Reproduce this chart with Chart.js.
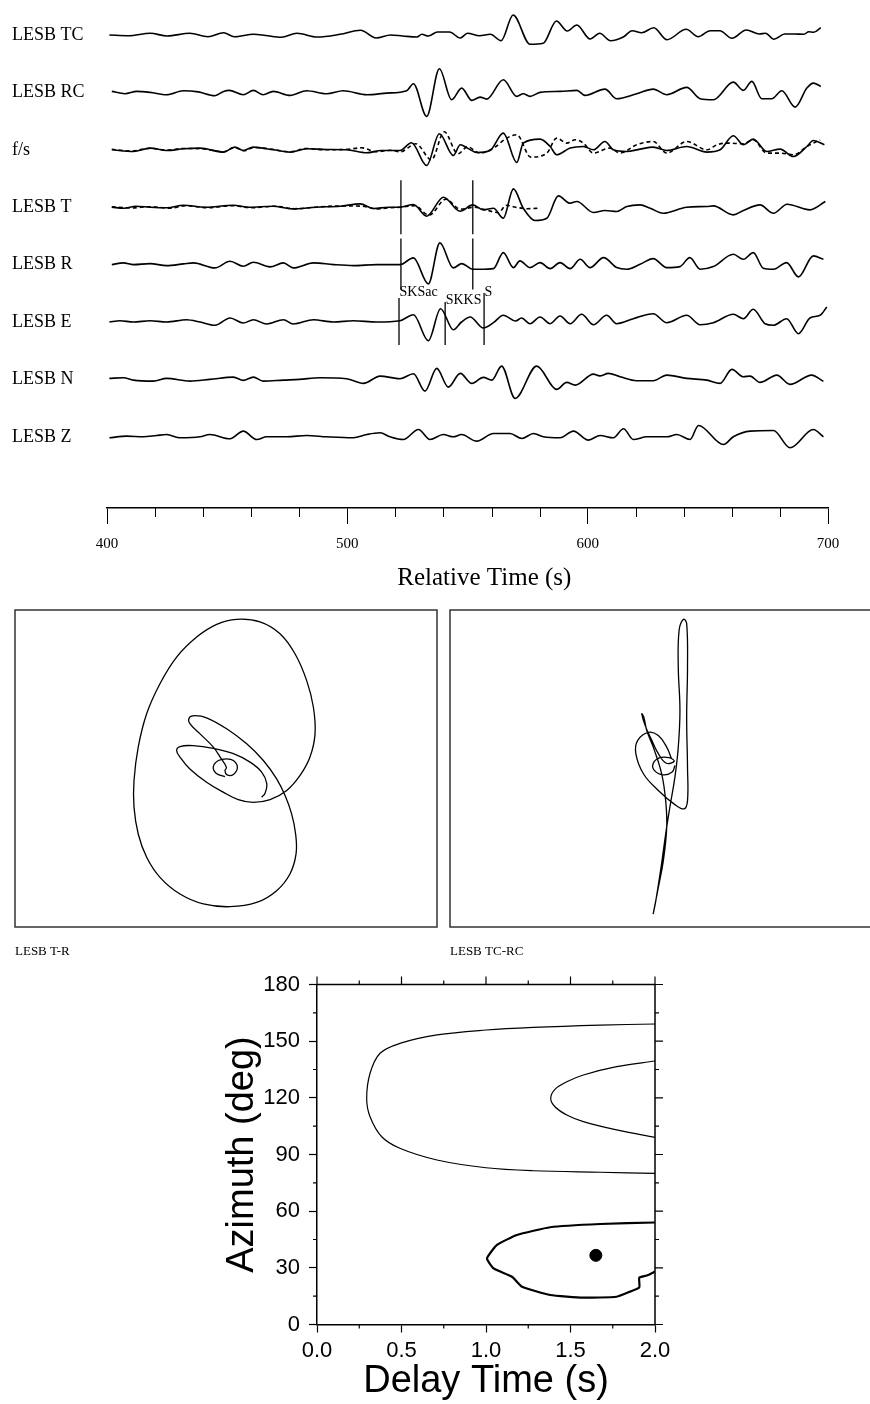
<!DOCTYPE html>
<html>
<head>
<meta charset="utf-8">
<script src="https://cdn.jsdelivr.net/npm/chart.js@4.4.0/dist/chart.umd.min.js"></script>
<style>
  body { margin: 0; background: #fff; width: 870px; height: 1404px; position: relative; overflow: hidden; }
  canvas { position: absolute; }
</style>
</head>
<body>
<canvas id="traces" width="870" height="600" style="left:0;top:0"></canvas>
<canvas id="pmTR" width="445" height="360" style="left:0;top:600px"></canvas>
<canvas id="pmTCRC" width="425" height="360" style="left:445px;top:600px"></canvas>
<canvas id="grid" width="870" height="444" style="left:0;top:960px"></canvas>
<script>
// ---- seismogram data: [time (s), amplitude] ----
const stations = ['LESB TC', 'LESB RC', 'f/s', 'LESB T', 'LESB R', 'LESB E', 'LESB N', 'LESB Z'];
const timeTicks = [400, 500, 600, 700];
const minorTimeTicks = [420, 440, 460, 480, 520, 540, 560, 580, 620, 640, 660, 680];

const traceTC = [[401,0],[409,-0.7],[418,1.7],[425,-1],[434.5,1.7],[442,-1.7],[448.5,2.3],[453,-1.7],[461,0.7],[466,-0.5],[472.5,-2.3],[479,1.7],[487.5,-2],[497,0.7],[505.5,4.7],[512,-3],[518,0],[523,-1],[529,-2],[531,0.7],[533.7,-1],[537.5,3],[542.5,3],[547,-3],[550,1.7],[555,-0.7],[559.5,0.7],[564,-5.7],[569,20],[576,-9.3],[581.5,-8.3],[587,14],[591.5,4],[595.5,10],[601,-4],[605,1.7],[609.5,-5.7],[615,-1.7],[618.5,4.3],[622.5,2.3],[627.5,7.3],[633,-4.7],[641,5.7],[646,-1.7],[651,4.3],[655,4.3],[660,-3.3],[666,5],[671.5,1],[674,1.7],[677.5,-4.3],[682,1],[686,1],[690,0.7],[692,3.3],[694,2.7],[697,7.3]];
const traceRC = [[402,1],[407.5,-1.3],[412.3,1],[418,0],[424.8,-2.3],[431.8,1.7],[438,0.5],[444.9,-3.3],[448.5,1],[450.8,2],[456.7,-2.3],[460.9,2],[465,-2.3],[469.2,1],[476.2,-3],[483.1,1.7],[491.4,-1.3],[498.3,1.7],[508.1,-2.3],[516.4,-0.7],[524.7,1.7],[527.5,8.7],[533,-24],[538.3,23.7],[543.4,-7.3],[547.6,4.3],[551.8,-8],[555.2,-4.7],[558,-6.7],[564.9,12.7],[570.5,-4],[573.2,-1.3],[576,-4],[580.2,0],[588.5,1],[595.5,2],[598.9,-3],[607.2,3.3],[612.1,-6.3],[620.4,-1.3],[627.3,3.3],[632.9,-2.3],[641.2,5],[646.8,-6.3],[652.3,-7.3],[660.6,10.3],[664.8,2],[668.3,11],[672.4,-6.3],[676.6,-6.3],[680.8,1.7],[686.3,-14.7],[691.2,4.3],[693.9,9.3],[697,6]];
const traceFast = [[402,0],[411,-1.7],[418,1.7],[424.8,-0.7],[431.8,1],[438.7,1.7],[448.5,-2.3],[453.2,2.7],[456.7,-0.7],[460.9,2.7],[469.2,0],[476.2,-2.3],[483.1,1],[491.4,0.3],[499.7,0],[508.1,-3],[514.1,-0.7],[521.9,-0.7],[526.7,7],[533,-15.7],[538.3,16],[544.1,-5.7],[547,5],[550,1.7],[553.8,-2.7],[559.4,-0.7],[564.9,16.7],[570.5,-12.7],[573.2,6.7],[580.2,10.7],[584.4,3.3],[587.1,-5],[592.7,1.7],[598.2,3.3],[602.4,0],[607.2,8.3],[610.7,0],[616.3,-1.7],[621.8,0.7],[627.3,2.7],[632.9,-0.7],[641.2,3.3],[649.6,-2.3],[655.1,0],[660.6,14],[664.8,5],[668.9,10.7],[674.5,-1.7],[680.1,0.7],[685.6,-6.7],[691.2,3.3],[693.9,9.3],[698.5,5]];
const traceSlow = [[402,0.5],[410,-1.2],[418,1.5],[425,-0.3],[432,1.3],[439,1.2],[448.5,-2],[453,2.3],[457,-1],[461,2.3],[469,0.5],[476,-2],[483,1.3],[491,0],[500,0.5],[506,2],[512,-2],[518,-0.5],[522,-2],[528.5,6],[535,-10],[540.3,18],[546,-4],[550,3],[555.2,-3.3],[561,2],[566.3,11.7],[570.5,15],[576.3,-7.3],[583,-3.3],[587.1,11.7],[591.3,6.7],[594.8,10],[598.2,6.7],[602.4,-3.3],[609.3,1.7],[613.5,-3.3],[620.4,5],[627.3,8.3],[632.9,-3.3],[641.2,8.3],[649.6,0],[653.8,5],[657.9,6.7],[664.8,6],[668.9,10],[674.5,-3.3],[680.1,-3.3],[685.6,-5],[691.2,3.3],[696.7,10]];
const traceT = [[402,0],[407,-1],[412,1],[418,0],[425,-0.5],[431.8,2],[441,0],[452.6,2],[459,0],[469,1],[477,-1.7],[487,0],[497,1],[505.3,3.3],[511,-1.3],[517,0],[522,0],[527.5,2.7],[533,-9],[540,10],[546.9,-4],[552.2,2.3],[556.6,-2.7],[560.8,-1],[564.9,-11],[569.1,18.3],[573.2,-1],[578.1,-13.3],[583,-11],[587.8,11.3],[592.7,4],[595.5,5.7],[602.4,-5.3],[607.2,-3.3],[612.1,-4.3],[616.3,0.7],[621.8,2.3],[626,-1],[631.4,-6],[641.2,0],[649.6,0.7],[652.3,1.3],[660.6,-7.7],[664.8,-3.3],[671.7,2.3],[677.3,-6],[683,3],[692.5,-2.7],[698.9,5.7]];
const traceTPred = [[402,0.3],[410,-0.7],[418,0.5],[426,-1],[433,1.5],[442,-0.5],[452,1.5],[460,-0.5],[470,1],[478,-1.5],[488,0.3],[498,1.3],[506,1],[512,-1.7],[518,-0.5],[522,0],[528,1.5],[534,-8],[541,8],[547,-2],[553,0],[558,-3],[563,-5.5],[566,2],[570,0],[575,-1.5],[580,-1]];
const traceR = [[402,0],[406.8,1.7],[411,0],[417.9,1],[424.8,-1],[431.8,0.7],[436,1.7],[444.9,-3.3],[451.2,3.3],[456.7,-1.7],[460.9,2.3],[467.8,-2.3],[473.4,1.7],[477.5,-3.3],[485.9,1.7],[494.2,0],[502.5,-1],[512.2,0],[521.9,0],[527.5,6.7],[533.7,-19.3],[538.5,21.7],[544.1,-3.3],[547.6,1],[552.2,-4.7],[555.2,-4.7],[560.8,-4],[564.9,12],[569.1,-3],[571.8,3.7],[576,-3],[580.2,2],[584.4,-4],[588.5,2],[592.7,-4],[596.9,5.3],[601,-3],[606.6,7],[612.1,-3],[616.3,-4.7],[621.8,0.3],[627.3,6],[632.9,-3],[638.4,-2],[642.5,7],[646.8,-4.7],[652.3,-2],[660.6,10.3],[664.8,5.3],[668.9,12],[673.1,-3.7],[677.3,-4.7],[682.8,2],[687.7,-12.3],[693.9,8.7],[698.1,5.3]];
const traceE = [[401,0],[405.4,1.3],[411,0],[417.9,1.3],[424.8,0],[433.1,2.3],[438.7,0],[444.9,-3.3],[451.2,4],[456.7,-1],[460.9,2.3],[466.4,-2],[473.4,2.3],[477.5,-2],[485.9,2.3],[494.2,0],[502.5,1.3],[512.2,0],[521.9,1.3],[527.5,7.3],[533.7,-18.7],[538.8,13.3],[544.1,-7.7],[547.5,0],[551.1,5],[556.6,-6],[560.8,-0.7],[564.9,6.7],[570,1],[572.5,4],[576,-1.7],[580.2,5],[584.4,-1.7],[588.5,6],[592.7,-1.7],[597.5,7.7],[602.4,-2.7],[607.9,6.7],[612.1,-1.7],[619,3.3],[627.3,8.3],[632.9,-0.7],[641.2,6.7],[646.8,-2.7],[652.3,-0.7],[660.6,7.7],[664.8,3.3],[668.9,12.7],[673.8,-1.7],[677.3,-3.3],[682.8,3.3],[687.7,-11.7],[692.5,4],[696.7,6.7],[699.5,15]];
const traceN = [[401,1],[406.8,1.7],[411,-0.7],[419.3,-1.7],[424.8,1],[434.5,-1.7],[442.8,0],[452.6,2.3],[456.7,-1],[460.9,2.3],[465,-1.7],[473.4,-0.7],[480,0],[488.6,1.7],[499.7,0.7],[506.7,-4],[513.6,3.3],[521.9,0.7],[527.5,5.7],[532.3,-11.7],[537.2,11],[542,-7.7],[547,6],[551.8,-4],[556.6,2],[560.1,-0.7],[564.2,13.3],[569.8,-19],[578.8,13.3],[587.1,-10],[591.3,-3],[594.8,-5.7],[602.4,5.3],[605,3.5],[608.6,6],[613.5,2.7],[620.4,-1.3],[627.3,-1.3],[632.9,4.3],[641.2,1],[649.6,-0.7],[655.1,-4],[660,10],[664.8,2.7],[667.6,3.3],[671.7,-3],[678.7,4.3],[684.2,-5],[693.2,4.3],[698.1,-2]];
const traceZ = [[401,-1],[408.2,0.7],[415.1,0],[420.6,1.3],[424.8,2.3],[430.4,-1],[438.7,0],[442.8,2.3],[451.2,-2],[456.7,5.7],[462.3,-2.7],[466.4,0],[474.8,0],[483.1,1.3],[491.4,0],[502.5,-1],[508.1,2.3],[513.6,4],[517.8,0],[523.3,-2.7],[529.6,7.3],[534.4,-2.7],[539.9,2.3],[544.1,0],[547.5,2.3],[553.8,-4.3],[560.8,3.3],[567.7,3.3],[572.6,-1.7],[577.5,3.3],[581.6,0],[588.5,-1],[594.1,5.7],[600.3,-3.3],[605.2,1.3],[610.7,-1],[614.9,8],[619,-2.7],[624.6,0],[632.9,0],[637.1,2.3],[642.6,-2.7],[646.1,11.3],[656.5,-7.7],[660.6,0],[667.6,5.7],[677.3,6.3],[684.2,-11],[693.9,7.3],[698.1,0]];

// analysis window (on T and R) and phase picks (on E)
const windowTimes = [522.3, 552.2];
const phaseNames = ['SKSac', 'SKKS', 'S'];
const phaseTimes = [521.5, 540.7, 556.9];

// ---- particle motion: [x, y] ----
const pmTR = [[-0.05,-0.38],[-0.47,-0.22],[-0.6,0.09],[-0.36,0.38],[0.03,0.46],[0.35,0.38],[0.54,0.06],[0.35,-0.28],[0.05,-0.3],[-0.05,-0.1],[0.02,0.05],[-0.25,0.5],[-0.6,1.01],[-1.23,1.64],[-1.71,2.12],[-1.74,2.4],[-1.47,2.5],[-0.92,2.4],[0.03,1.88],[0.98,1.17],[1.77,0.38],[2.4,-0.49],[2.8,-1.28],[3.11,-2.15],[3.3,-3.1],[3.32,-4.04],[3.03,-4.99],[2.4,-5.78],[1.45,-6.34],[0.19,-6.54],[-1.07,-6.41],[-2.18,-5.94],[-3.13,-5.15],[-3.76,-4.2],[-4.16,-3.1],[-4.36,-1.83],[-4.36,-0.57],[-4.16,1.01],[-3.76,2.59],[-3.13,4.01],[-2.34,5.27],[-1.39,6.22],[-0.44,6.82],[0.51,7.06],[1.61,6.94],[2.56,6.38],[3.27,5.43],[3.82,4.17],[4.14,2.91],[4.22,1.64],[3.98,0.54],[3.51,-0.33],[2.88,-1.04],[2.09,-1.47],[1.29,-1.6],[0.58,-1.47],[-0.13,-1.12],[-0.92,-0.65],[-1.71,-0.02],[-2.18,0.54],[-2.34,0.85],[-2.18,1.04],[-1.55,1.08],[-0.6,0.95],[0.35,0.7],[1.14,0.3],[1.69,-0.17],[1.93,-0.7],[1.85,-1.17],[1.69,-1.36]];
const pmTCRC = [[0.71,0.14],[0.58,-0.17],[0.16,-0.3],[-0.27,-0.09],[-0.32,0.25],[0,0.51],[0.43,0.51],[0.68,0.35],[0.3,0.25],[-0.08,0.7],[-0.39,1.33],[-0.71,2.04],[-0.87,2.59],[-0.77,2.43],[-0.63,1.8],[-0.32,1.01],[0.08,-0.25],[0.27,-1.52],[0.32,-2.78],[0.16,-4.36],[-0.08,-5.63],[-0.32,-6.86],[-0.2,-6.26],[0.05,-4.68],[0.27,-3.1],[0.47,-1.83],[0.71,-0.41],[0.87,1.01],[0.95,2.75],[0.87,4.8],[0.91,6.54],[1.12,7.06],[1.27,6.86],[1.31,4.8],[1.27,2.43],[1.31,0.06],[1.31,-1.52],[1.15,-1.91],[0.71,-1.71],[-0.08,-1.04],[-0.79,-0.25],[-1.15,0.7],[-1.06,1.33],[-0.55,1.71],[-0.08,1.56],[0.32,1.01],[0.55,0.46]];

// ---- splitting grid search: [delay (s), azimuth (deg)] ----
const contourOuter = [[2,159.1],[1.675,158.5],[1.28,157.3],[1.0,155.9],[0.71,153.3],[0.49,148.8],[0.373,143.6],[0.314,133],[0.294,119.7],[0.314,110],[0.383,99.4],[0.49,93.3],[0.71,87.1],[1.0,83],[1.28,81.4],[1.675,80.6],[2,80]];
const contourInner = [[2,139.5],[1.773,136.5],[1.576,132.1],[1.478,128.5],[1.408,124.5],[1.383,119.7],[1.408,115.3],[1.478,110.9],[1.576,107.4],[1.773,103],[2,99.1]];
const contourBest = [[2,54],[1.675,53.2],[1.38,51.5],[1.183,47.4],[1.065,42.1],[1.006,35],[1.045,29.7],[1.154,25.3],[1.213,20],[1.38,15.6],[1.576,14.2],[1.773,14.7],[1.852,17.4],[1.907,19.7],[1.907,24.8],[1.951,25.9],[2,28]];
const bestFit = [1.65, 36.6];
const delayTicks = [0, 0.5, 1.0, 1.5, 2.0];
const azimuthTicks = [0, 30, 60, 90, 120, 150, 180];

Chart.defaults.font.family = '"Liberation Serif", serif';
Chart.defaults.color = '#000';
Chart.defaults.animation = false;

const GAP = 57.4;
const SERIF = '"Liberation Serif", serif';
const SANS = '"Liberation Sans", Arial, sans-serif';

function traceSet(pairs, k, dashed) {
  return {
    data: pairs.map(([t, a]) => ({ x: t, y: a - k * GAP })),
    borderColor: '#000',
    borderWidth: 1.6,
    borderDash: dashed ? [4, 3] : [],
    pointRadius: 0,
    cubicInterpolationMode: 'monotone',
    fill: false
  };
}

const traceDecor = {
  id: 'traceDecor',
  afterDraw(chart) {
    const { ctx, chartArea, scales: { x, y } } = chart;
    ctx.save();
    ctx.fillStyle = '#000';
    ctx.strokeStyle = '#000';
    ctx.font = '18px ' + SERIF;
    ctx.textBaseline = 'middle';
    stations.forEach((s, k) => ctx.fillText(s, 12, y.getPixelForValue(-k * GAP)));

    // axis title, set a little right of centre as in the original
    ctx.font = '25px ' + SERIF;
    ctx.textAlign = 'center';
    ctx.fillText('Relative Time (s)', x.getPixelForValue(557), chartArea.bottom + 70);
    ctx.textAlign = 'left';

    ctx.lineWidth = 1;
    minorTimeTicks.forEach(v => {
      const px = Math.round(x.getPixelForValue(v)) + 0.5;
      ctx.beginPath();
      ctx.moveTo(px, chartArea.bottom);
      ctx.lineTo(px, chartArea.bottom + 9);
      ctx.stroke();
    });

    ctx.lineWidth = 1.3;
    const vline = (t, k, up, down) => {
      const px = x.getPixelForValue(t);
      ctx.beginPath();
      ctx.moveTo(px, y.getPixelForValue(-k * GAP + up));
      ctx.lineTo(px, y.getPixelForValue(-k * GAP - down));
      ctx.stroke();
    };
    windowTimes.forEach(t => { vline(t, 3, 27, 27); vline(t, 4, 26, 25); });
    const tops = [24, 20, 29];
    const labelUp = [30, 22, 30];
    ctx.font = '14px ' + SERIF;
    phaseTimes.forEach((t, i) => {
      vline(t, 5, tops[i], 23);
      ctx.fillText(phaseNames[i], x.getPixelForValue(t) + 0.5, y.getPixelForValue(-5 * GAP + labelUp[i]));
    });
    ctx.restore();
  }
};

new Chart(document.getElementById('traces'), {
  type: 'line',
  data: {
    datasets: [
      traceSet(traceTC, 0), traceSet(traceRC, 1),
      traceSet(traceFast, 2), traceSet(traceSlow, 2, true),
      traceSet(traceT, 3), traceSet(traceTPred, 3, true),
      traceSet(traceR, 4), traceSet(traceE, 5),
      traceSet(traceN, 6), traceSet(traceZ, 7)
    ]
  },
  options: {
    responsive: false,
    layout: { padding: { left: 107, right: 42, top: 0, bottom: 0 } },
    plugins: { legend: { display: false }, tooltip: { enabled: false } },
    scales: {
      x: {
        type: 'linear', min: 400, max: 700,
        afterBuildTicks: s => { s.ticks = timeTicks.map(v => ({ value: v })); },
        afterFit: s => { s.height = 92; },
        ticks: { font: { size: 15, family: SERIF }, padding: 11, maxRotation: 0 },
        grid: { drawOnChartArea: false, tickLength: 16, tickColor: '#000', tickWidth: 1 },
        border: { display: true, color: '#000', width: 1.5 }
      },
      y: { type: 'linear', display: false, min: -473, max: 35 }
    }
  },
  plugins: [traceDecor]
});

function boxPlugin(label, extraRight) {
  return {
    id: 'box',
    afterDraw(chart) {
      const { ctx, chartArea: a } = chart;
      ctx.save();
      ctx.strokeStyle = '#333';
      ctx.lineWidth = 1.5;
      ctx.strokeRect(a.left, a.top, a.right - a.left + extraRight, a.bottom - a.top);
      ctx.fillStyle = '#000';
      ctx.font = '13px ' + SERIF;
      ctx.textBaseline = 'middle';
      ctx.fillText(label, a.left, a.bottom + 25);
      ctx.restore();
    }
  };
}

function pmChart(id, pairs, padding, label, extraRight) {
  new Chart(document.getElementById(id), {
    type: 'scatter',
    data: {
      datasets: [{
        data: pairs.map(([px, py]) => ({ x: px, y: py })),
        showLine: true, borderColor: '#000', borderWidth: 1.3,
        pointRadius: 0, tension: 0.4, fill: false
      }]
    },
    options: {
      responsive: false,
      layout: { padding },
      plugins: { legend: { display: false }, tooltip: { enabled: false } },
      scales: {
        x: { type: 'linear', display: false, min: -10, max: 10 },
        y: { type: 'linear', display: false, min: -7.5, max: 7.5 }
      }
    },
    plugins: [boxPlugin(label, extraRight)]
  });
}
pmChart('pmTR', pmTR, { left: 15, right: 8, top: 10, bottom: 33 }, 'LESB T-R', 0);
pmChart('pmTCRC', pmTCRC, { left: 5, right: 0, top: 10, bottom: 33 }, 'LESB TC-RC', 4);

const frameTicks = {
  id: 'frameTicks',
  afterDraw(chart) {
    const { ctx, chartArea: a, scales: { x, y } } = chart;
    ctx.save();
    ctx.strokeStyle = '#000';
    ctx.lineWidth = 1.5;
    ctx.beginPath();
    ctx.moveTo(a.left, a.top); ctx.lineTo(a.right, a.top);
    ctx.moveTo(a.right, a.top); ctx.lineTo(a.right, a.bottom);
    ctx.stroke();
    ctx.lineWidth = 1.2;
    ctx.beginPath();
    for (let v = 0; v <= 2.0001; v += 0.25) {
      const px = x.getPixelForValue(v);
      const major = Math.abs(v * 2 - Math.round(v * 2)) < 1e-6;
      const len = major ? 8 : 4;
      ctx.moveTo(px, a.top); ctx.lineTo(px, a.top - len);
      if (!major) { ctx.moveTo(px, a.bottom); ctx.lineTo(px, a.bottom + len); }
    }
    for (let v = 0; v <= 180; v += 15) {
      const py = y.getPixelForValue(v);
      const major = v % 30 === 0;
      const len = major ? 8 : 4;
      ctx.moveTo(a.right, py); ctx.lineTo(a.right + len, py);
      if (!major) { ctx.moveTo(a.left, py); ctx.lineTo(a.left - len, py); }
    }
    ctx.stroke();
    ctx.restore();
  }
};

function contourSet(pairs, width, tension) {
  return {
    data: pairs.map(([d, az]) => ({ x: d, y: az })),
    showLine: true, borderColor: '#000', borderWidth: width,
    pointRadius: 0, tension, fill: false
  };
}

new Chart(document.getElementById('grid'), {
  type: 'scatter',
  data: {
    datasets: [
      contourSet(contourOuter, 1.2, 0.35),
      contourSet(contourInner, 1.2, 0.35),
      contourSet(contourBest, 2.2, 0.15),
      { data: [{ x: bestFit[0], y: bestFit[1] }], pointRadius: 6, backgroundColor: '#000', borderColor: '#000' }
    ]
  },
  options: {
    responsive: false,
    layout: { padding: { left: 0, right: 215, top: 24.5, bottom: 0 } },
    plugins: { legend: { display: false }, tooltip: { enabled: false } },
    scales: {
      x: {
        type: 'linear', min: 0, max: 2,
        afterBuildTicks: s => { s.ticks = delayTicks.map(v => ({ value: v })); },
        afterFit: s => { s.height = 79.5; },
        ticks: { font: { size: 22, family: SANS }, padding: 5, maxRotation: 0, callback: v => v.toFixed(1) },
        grid: { drawOnChartArea: false, tickLength: 8, tickColor: '#000', tickWidth: 1.2 },
        border: { display: true, color: '#000', width: 1.5 },
        title: { display: true, text: 'Delay Time (s)', font: { size: 38, family: SANS }, padding: { top: 0, bottom: 0 } }
      },
      y: {
        type: 'linear', min: 0, max: 180,
        afterBuildTicks: s => { s.ticks = azimuthTicks.map(v => ({ value: v })); },
        afterFit: s => { s.width = 317; },
        ticks: { font: { size: 22, family: SANS }, padding: 9 },
        grid: { drawOnChartArea: false, tickLength: 8, tickColor: '#000', tickWidth: 1.2 },
        border: { display: true, color: '#000', width: 1.5 },
        title: { display: true, text: 'Azimuth (deg)', font: { size: 38, family: SANS }, padding: { top: 220, bottom: 0 } }
      }
    }
  },
  plugins: [frameTicks]
});
</script>
</body>
</html>
